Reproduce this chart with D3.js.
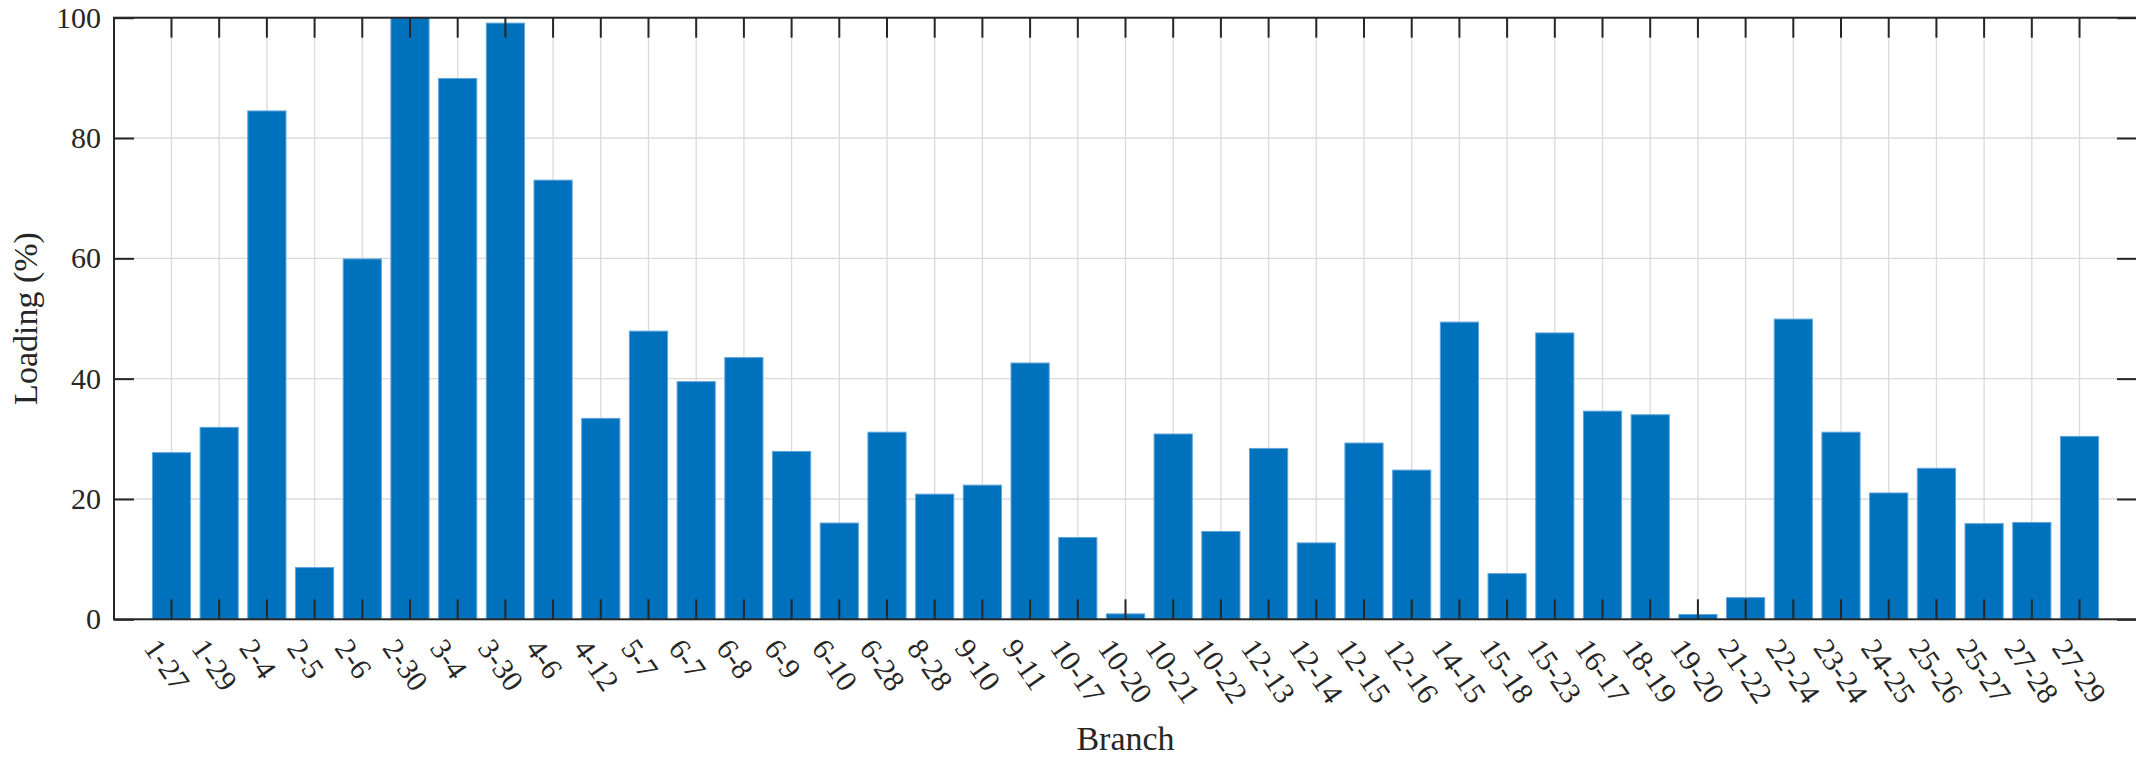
<!DOCTYPE html>
<html>
<head>
<meta charset="utf-8">
<script src="https://cdn.jsdelivr.net/npm/d3@7"></script>
<style>
  html, body { margin: 0; padding: 0; background: #ffffff; }
  svg { display: block; }
  text { font-family: "Liberation Serif", "Times New Roman", serif; fill: #262626; }
</style>
</head>
<body>
<svg id="chart" width="2136" height="761"></svg>
<script>
// Branch identifiers (from-bus – to-bus)
const branches = [
  "1-27", "1-29", "2-4", "2-5", "2-6", "2-30", "3-4", "3-30", "4-6", "4-12",
  "5-7", "6-7", "6-8", "6-9", "6-10", "6-28", "8-28", "9-10", "9-11", "10-17",
  "10-20", "10-21", "10-22", "12-13", "12-14", "12-15", "12-16", "14-15", "15-18", "15-23",
  "16-17", "18-19", "19-20", "21-22", "22-24", "23-24", "24-25", "25-26", "25-27", "27-28",
  "27-29"
];

// Line loading per branch, in percent
const loading = [
  27.7, 31.9, 84.5, 8.6, 59.9, 100.0, 89.9, 99.1, 73.0, 33.4,
  47.9, 39.5, 43.5, 27.9, 16.0, 31.1, 20.8, 22.3, 42.6, 13.6,
  0.9, 30.8, 14.6, 28.4, 12.7, 29.3, 24.8, 49.4, 7.6, 47.6,
  34.6, 34.0, 0.8, 3.6, 49.9, 31.1, 21.0, 25.1, 15.9, 16.1,
  30.4
];

const yTicks = [0, 20, 40, 60, 80, 100];

const xLabel = "Branch";
const yLabel = "Loading (%)";

// Plot frame
const frame = { left: 114, right: 2137, top: 17.7, bottom: 619.3 };
const axisColor = "#262626";
const gridColor = "#dadada";
const tickLen = 20;

const svg = d3.select("#chart");

const x = d3.scaleBand()
  .domain(branches)
  .range([frame.left, frame.right])
  .paddingInner(0.2)
  .paddingOuter(0.805);

const y = d3.scaleLinear()
  .domain([0, 100])
  .range([frame.bottom, frame.top]);

// Grid lines (behind the bars)
const grid = svg.append("g").attr("class", "grid");
grid.selectAll("line.gx")
  .data(branches)
  .join("line")
  .attr("class", "gx")
  .attr("x1", d => x(d) + x.bandwidth() / 2)
  .attr("x2", d => x(d) + x.bandwidth() / 2)
  .attr("y1", frame.top)
  .attr("y2", frame.bottom)
  .attr("stroke", gridColor)
  .attr("stroke-width", 1.3);
grid.selectAll("line.gy")
  .data(yTicks)
  .join("line")
  .attr("class", "gy")
  .attr("x1", frame.left)
  .attr("x2", frame.right)
  .attr("y1", d => y(d))
  .attr("y2", d => y(d))
  .attr("stroke", gridColor)
  .attr("stroke-width", 1.3);

// Bars
svg.append("g")
  .attr("class", "bars")
  .selectAll("rect")
  .data(branches.map((b, i) => ({ branch: b, value: loading[i] })))
  .join("rect")
  .attr("x", d => x(d.branch))
  .attr("width", x.bandwidth())
  .attr("y", d => y(Math.min(d.value, 100)))
  .attr("height", d => y(0) - y(Math.min(d.value, 100)))
  .attr("fill", "#0072BD")
  .attr("stroke", "#5fa3db")
  .attr("stroke-width", 1);

// Axes with inward ticks
function styleAxis(g) {
  g.select(".domain").remove();
  g.selectAll(".tick line").attr("stroke", axisColor).attr("stroke-width", 2);
}

const yAxisLeft = svg.append("g")
  .attr("transform", `translate(${frame.left},0)`)
  .call(d3.axisLeft(y).tickValues(yTicks).tickSize(-tickLen).tickPadding(13))
  .call(styleAxis);
yAxisLeft.selectAll(".tick text")
  .style("font-size", "30px")
  .attr("fill", axisColor);

svg.append("g")
  .attr("transform", `translate(${frame.right},0)`)
  .call(d3.axisRight(y).tickValues(yTicks).tickSize(-tickLen).tickFormat(""))
  .call(styleAxis);

svg.append("g")
  .attr("transform", `translate(0,${frame.top})`)
  .call(d3.axisTop(x).tickSize(-tickLen).tickFormat(""))
  .call(styleAxis);

const xAxisBottom = svg.append("g")
  .attr("transform", `translate(0,${frame.bottom})`)
  .call(d3.axisBottom(x).tickSize(-tickLen))
  .call(styleAxis);
xAxisBottom.selectAll(".tick text")
  .style("font-size", "30px")
  .attr("fill", axisColor)
  .attr("x", null)
  .attr("y", null)
  .attr("dy", "0.35em")
  .attr("text-anchor", "start")
  .attr("transform", "translate(-20,23) rotate(55)");

// Axes box
svg.append("rect")
  .attr("x", frame.left)
  .attr("y", frame.top)
  .attr("width", frame.right - frame.left)
  .attr("height", frame.bottom - frame.top)
  .attr("fill", "none")
  .attr("stroke", axisColor)
  .attr("stroke-width", 2);

// Axis titles
svg.append("text")
  .attr("x", (frame.left + frame.right) / 2)
  .attr("y", 750)
  .attr("text-anchor", "middle")
  .style("font-size", "34px")
  .text(xLabel);

svg.append("text")
  .attr("transform", `translate(37,${(frame.top + frame.bottom) / 2}) rotate(-90)`)
  .attr("text-anchor", "middle")
  .style("font-size", "34px")
  .text(yLabel);
</script>
</body>
</html>
